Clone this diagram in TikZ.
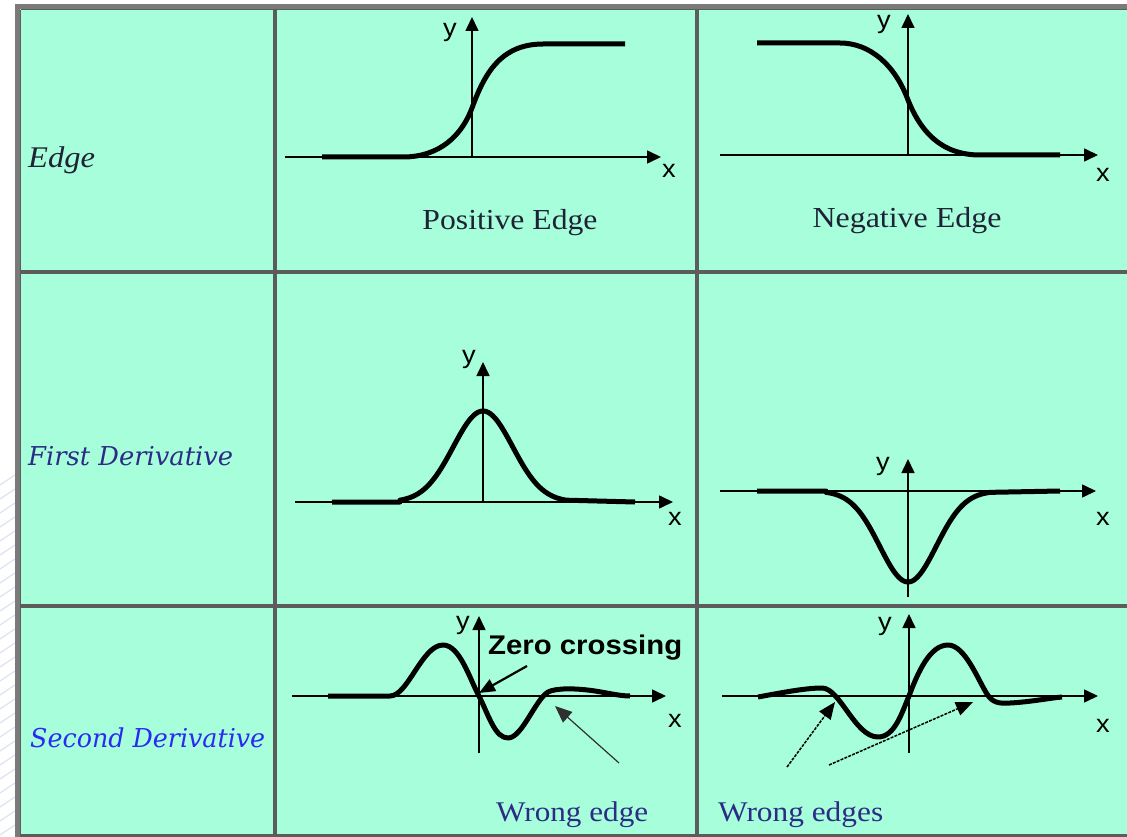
\documentclass[tikz,border=0pt]{standalone}
\usepackage{graphicx}
\usepackage{fontspec}
\setmainfont{Liberation Serif}
\newfontfamily\arialf{Liberation Sans}
\newfontfamily\dvserif{DejaVu Serif}
\usetikzlibrary{arrows.meta}
\definecolor{mint}{HTML}{A7FEDA}
\definecolor{gridgray}{HTML}{5C5C5C}
\definecolor{outergray}{HTML}{7A7A7A}
\definecolor{swooshc}{HTML}{DCE2F4}
\definecolor{darktxt}{HTML}{1E2236}
\definecolor{navytxt}{HTML}{2C2C86}
\definecolor{bluetxt}{HTML}{2A2AF2}
\definecolor{weakarrow}{HTML}{303030}
\newcommand{\hs}[1]{\scalebox{1.09}[1]{#1}}
\newcommand{\fitw}[2]{\resizebox{#1}{\height}{#2}}
\begin{document}
\begin{tikzpicture}[x=1pt,y=-1pt,
  curve/.style={line width=5pt, line join=round},
  axisline/.style={line width=1.6pt, -{Triangle[length=14pt,width=13pt]}},
  axlab/.style={font=\arialf\fontsize{25}{25}\selectfont, anchor=base, inner sep=0pt},
  rowlab/.style={anchor=base west, inner sep=0pt},
  caplab/.style={font=\fontsize{29}{30}\selectfont, text=darktxt, anchor=base, inner sep=0pt},
  wronglab/.style={font=\fontsize{28.5}{30}\selectfont, text=navytxt, anchor=base west, inner sep=0pt},
  gridline/.style={gridgray, line width=3.5pt},
  swoosh/.style={swooshc, line width=1.2pt},
  weakarr/.style={weakarrow, line width=1.2pt, -{Triangle[length=17pt,width=14pt]}},
  dasharr/.style={black, line width=1.5pt, dash pattern=on 3pt off 1.2pt, -{Triangle[length=17pt,width=14pt]}}
]
\useasboundingbox (0,0) rectangle (1127,837);
\fill[white] (0,0) rectangle (1127,837);
% left margin decoration
\foreach \yy in {478,492,...,836} {
  \draw[swoosh] (0,\yy+7) .. controls (6,\yy+3) .. (15,\yy-3);
}
% table
\fill[mint] (20,9) rectangle (1127,837);
\fill[outergray] (15,4) rectangle (1127,9);
\fill[outergray] (15,4) rectangle (20,837);
\draw[gridgray, line width=1.2pt] (20.6,9.6) -- (1127,9.6);
\draw[gridgray, line width=1.2pt] (20.6,9.6) -- (20.6,837);
\draw[gridline] (275,9) -- (275,837);
\draw[gridline] (697,9) -- (697,837);
\draw[gridline] (20,272) -- (1127,272);
\draw[gridline] (20,606) -- (1127,606);
\draw[gridline] (20,835.5) -- (1127,835.5);

% row labels
\node[rowlab, font=\itshape\fontsize{30}{32}\selectfont, text=darktxt] (lEdge) at (28,168) {\fitw{67pt}{Edge}};
\node[rowlab, font=\dvserif\itshape\fontsize{26}{28}\selectfont, text=navytxt] (lFirst) at (28,465) {\fitw{205pt}{First Derivative}};
\node[rowlab, font=\dvserif\itshape\fontsize{26}{28}\selectfont, text=bluetxt] (lSecond) at (30,747) {\fitw{235pt}{Second Derivative}};

% ---------- panel 1: positive edge
\draw[axisline] (285,157) -- (661,157);
\draw[axisline] (472,157) -- (472,17);
\draw[curve] (322,157) -- (403,157) .. controls (440,157) and (462,135) .. (472,108)
  .. controls (484,75) and (500,44) .. (543,44) -- (625,44);
\node[axlab] (y1) at (450,37) {\hs{y}};
\node[axlab] (x1) at (669,178) {\hs{x}};
\node[caplab] (cPos) at (510,230) {\fitw{175pt}{Positive Edge}};

% ---------- panel 2: negative edge
\draw[axisline] (720,155) -- (1098,155);
\draw[axisline] (908,155) -- (908,14);
\draw[curve] (757,43) -- (840,43) .. controls (870,43) and (895,65) .. (908,100)
  .. controls (920,130) and (940,155) .. (980,155) -- (1060,155);
\node[axlab] (y2) at (884,29) {\hs{y}};
\node[axlab] (x2) at (1103,182) {\hs{x}};
\node[caplab] (cNeg) at (907,228) {\fitw{189pt}{Negative Edge}};

% ---------- panel 3: first derivative (positive bump)
\draw[axisline] (295,502) -- (673,502);
\draw[axisline] (483,502) -- (483,362);
\draw[curve] (332,502) -- (400,502)
  -- plot[domain=400:566, samples=80] (\x, {502-91*exp(-((\x-483)/42)^2)}) -- (635,502);
\node[axlab] (y3) at (469,363) {\hs{y}};
\node[axlab] (x3) at (675,525) {\hs{x}};

% ---------- panel 4: first derivative (negative dip)
\draw[axisline] (720,491) -- (1096,491);
\draw[axisline] (908,597) -- (908,459);
\draw[curve] (757,491) -- (826,491)
  -- plot[domain=826:990, samples=80] (\x, {491+91*exp(-((\x-908)/40)^2)}) -- (1060,491);
\node[axlab] (y4) at (883,470) {\hs{y}};
\node[axlab] (x4) at (1103,525) {\hs{x}};

% ---------- panel 5: second derivative
\draw[axisline] (292,696) -- (666,696);
\draw[axisline] (479,753) -- (479,616);
\draw[curve] (328,696) -- (390,696)
  .. controls (408,696) and (422,645) .. (443,645)
  .. controls (460,645) and (470,680) .. (479,696)
  .. controls (489,716) and (495,738) .. (508,738)
  .. controls (522,738) and (535,700) .. (548,692)
  .. controls (556,688) and (575,688) .. (595,691)
  .. controls (608,693) and (620,696) .. (630,696);
\node[axlab] (y5) at (463,629) {\hs{y}};
\node[axlab] (x5) at (675,727) {\hs{x}};
\node[anchor=base west, inner sep=0pt, font=\arialf\bfseries\fontsize{27}{28}\selectfont] (zc) at (488,654) {\fitw{194pt}{Zero crossing}};
\coordinate (zcs) at (527,666);
\coordinate (zct) at (479,693);
\draw[line width=2.2pt, -{Triangle[length=16pt,width=13pt]}] (zcs) -- (zct);
\coordinate (we1s) at (619,763);
\coordinate (we1t) at (555,706);
\draw[weakarr] (we1s) -- (we1t);
\node[wronglab] (wEdge) at (496,821) {\fitw{152pt}{Wrong edge}};

% ---------- panel 6: second derivative (other)
\draw[axisline] (722,696) -- (1098,696);
\draw[axisline] (909,753) -- (909,614);
\draw[curve] (758,697)
  .. controls (780,693) and (805,688) .. (822,688)
  .. controls (840,688) and (855,737) .. (878,737)
  .. controls (895,737) and (902,712) .. (909,696)
  .. controls (918,672) and (930,645) .. (948,645)
  .. controls (965,645) and (978,680) .. (987,694)
  .. controls (992,702) and (998,704) .. (1010,703)
  .. controls (1030,702) and (1050,698) .. (1062,697);
\node[axlab] (y6) at (885,630) {\hs{y}};
\node[axlab] (x6) at (1103,732) {\hs{x}};
\coordinate (we2s) at (787,767);
\coordinate (we2t) at (835,702);
\coordinate (we3s) at (829,765);
\coordinate (we3t) at (973,702);
\draw[dasharr] (we2s) -- (we2t);
\draw[dasharr] (we3s) -- (we3t);
\node[wronglab] (wEdges) at (718,821) {\fitw{165pt}{Wrong edges}};
\end{tikzpicture}
\end{document}
